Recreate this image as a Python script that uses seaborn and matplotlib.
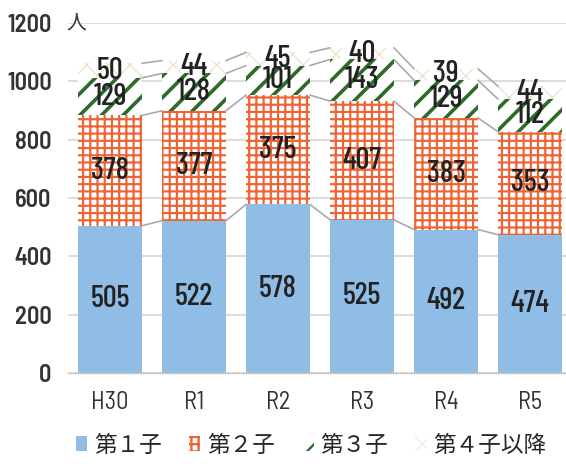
import matplotlib
matplotlib.use("Agg")
import matplotlib.pyplot as plt
import matplotlib.patches as mpatches
import seaborn as sns
import numpy as np

# data
years = ["H30", "R1", "R2", "R3", "R4", "R5"]
first = [505, 522, 578, 525, 492, 474]
second = [378, 377, 375, 407, 383, 353]
third = [129, 128, 101, 143, 129, 112]
fourth = [50, 44, 45, 40, 39, 44]
series_names = ["第１子", "第２子", "第３子", "第４子以降"]

blue = "#8fbde6"
orange = "#ef6434"
green = "#2c6b2a"
beige = "#e9dfc2"

sns.set_style("white")
plt.rcParams["font.family"] = ["Barlow Condensed", "DejaVu Sans"]
plt.rcParams["hatch.linewidth"] = 1.3

DPI = 130
fig = plt.figure(figsize=(566 / DPI, 471 / DPI), dpi=DPI)
ax = fig.add_axes([68 / 566, 98 / 471, 504 / 566, 350 / 471])

c1 = np.array(first)
c2 = c1 + np.array(second)
c3 = c2 + np.array(third)
c4 = c3 + np.array(fourth)

width = 0.76
layers = [
    (c4, "white", beige, "xx", 0.6),
    (c3, "white", green, "//", 2.0),
    (c2, "white", orange, "+++", 1.2),
    (c1, blue, blue, None, 1.0),
]
for cum, face, edge, hatch, hlw in layers:
    n_before = len(ax.patches)
    sns.barplot(x=years, y=cum, color=face, saturation=1, width=width,
                edgecolor=edge, linewidth=0, hatch=hatch, ax=ax)
    for p in ax.patches[n_before:]:
        if hatch and hasattr(p, "set_hatch_linewidth"):
            p.set_hatch_linewidth(hlw)

# connector (series) lines between bars
for cum in (c1, c2, c3, c4):
    for i in range(len(years) - 1):
        ax.plot([i + width / 2, i + 1 - width / 2], [cum[i], cum[i + 1]],
                color="#a8a8a8", lw=0.9, zorder=3)

# value labels in each segment
bottoms = [np.zeros(6), c1, c2, c3]
for vals, bot in zip([first, second, third, fourth], bottoms):
    for i, v in enumerate(vals):
        ax.text(i, bot[i] + v / 2, str(v), ha="center", va="center",
                fontsize=17, fontweight=500, color="#222222", zorder=5)

ax.set_xlim(-0.5, 5.5)
ax.set_ylim(0, 1200)
ax.set_yticks(range(0, 1201, 200))
ax.yaxis.grid(True, color="#d9d9d9", lw=1)
ax.set_axisbelow(True)
for s in ["top", "right", "left"]:
    ax.spines[s].set_visible(False)
ax.spines["bottom"].set_color("#c8c8c8")
ax.tick_params(axis="both", length=0, labelsize=13.5, colors="#333333")
ax.tick_params(axis="y", pad=9)
ax.tick_params(axis="x", pad=10)
for lab in ax.get_yticklabels():
    lab.set_family(["Barlow Semi Condensed", "DejaVu Sans"])
    lab.set_fontweight(600)
for lab in ax.get_xticklabels():
    lab.set_family(["Barlow Semi Condensed", "DejaVu Sans"])
    lab.set_fontweight(400)
ax.set_xlabel("")
ax.set_ylabel("")

fig.text(66 / 566, 1 - 23 / 471, "人", fontsize=11, color="#333333",
         family=["Noto Sans CJK JP"], va="center", ha="left")

handles = [
    mpatches.Patch(facecolor=blue, edgecolor=blue, lw=0),
    mpatches.Patch(facecolor="white", edgecolor=orange, hatch="+++", lw=0),
    mpatches.Patch(facecolor="white", edgecolor=green, hatch="//", lw=0),
    mpatches.Patch(facecolor="white", edgecolor="#f5f2ea", hatch="xx", lw=0),
]
fig.legend(handles, series_names, loc="center", bbox_to_anchor=(0.55, 26 / 471),
           ncol=4, frameon=False, handlelength=0.5, handleheight=0.6,
           handletextpad=0.3, columnspacing=1.2,
           prop={"family": ["Noto Sans CJK JP"], "size": 12.5})

fig.savefig("out.png", dpi=DPI)
